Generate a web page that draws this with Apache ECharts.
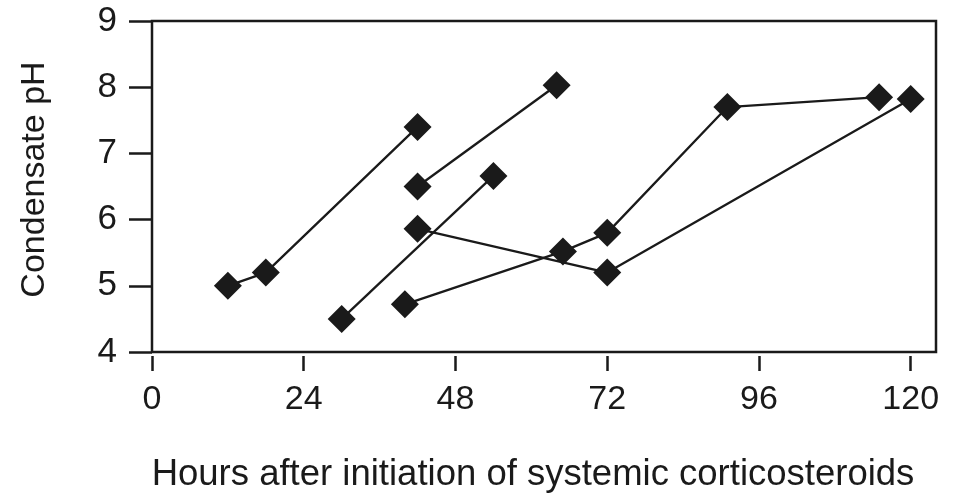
<!DOCTYPE html>
<html>
<head>
<meta charset="utf-8">
<script src="https://cdn.jsdelivr.net/npm/echarts@6/dist/echarts.min.js"></script>
<style>
html,body{margin:0;padding:0;background:#fff;}
#main{width:954px;height:495px;}
</style>
</head>
<body>
<div id="main"></div>
<script>
// Hours after initiation of systemic corticosteroids (x) and condensate pH (y), one array pair per patient
const patientA_x = [12, 18, 42];
const patientA_y = [5.0, 5.2, 7.4];
const patientB_x = [42, 64];
const patientB_y = [6.5, 8.03];
const patientC_x = [30, 54];
const patientC_y = [4.5, 6.66];
const patientD_x = [42, 72, 120];
const patientD_y = [5.86, 5.2, 7.82];
const patientE_x = [40, 65, 72, 91, 115];
const patientE_y = [4.72, 5.52, 5.8, 7.7, 7.85];

const xTickValues = [0, 24, 48, 72, 96, 120];
const yTickValues = [4, 5, 6, 7, 8, 9];

const xTitle = 'Hours after initiation of systemic corticosteroids';
const yTitle = 'Condensate pH';

const font = "'Liberation Sans', Arial, Helvetica, sans-serif";

function pairs(xs, ys) { return xs.map((x, i) => [x, ys[i]]); }

const patients = [
  [patientA_x, patientA_y],
  [patientB_x, patientB_y],
  [patientC_x, patientC_y],
  [patientD_x, patientD_y],
  [patientE_x, patientE_y]
];

const chart = echarts.init(document.getElementById('main'), null, {renderer: 'canvas'});
chart.setOption({
  backgroundColor: '#ffffff',
  animation: false,
  grid: {
    left: 152, top: 21, right: 18, bottom: 143,
    containLabel: false,
    outerBoundsMode: 'none',
    show: true, borderColor: '#1a1a1a', borderWidth: 2.5, backgroundColor: 'transparent'
  },
  xAxis: {
    type: 'value',
    min: 0, max: 124,
    offset: 4,
    axisLine: {show: false},
    axisTick: {show: true, length: 15, lineStyle: {color: '#1a1a1a', width: 2.5}, customValues: xTickValues},
    axisLabel: {color: '#1a1a1a', fontSize: 34, fontFamily: font, margin: 27, customValues: xTickValues},
    splitLine: {show: false},
    name: xTitle,
    nameLocation: 'middle',
    nameGap: 100,
    nameTextStyle: {color: '#1a1a1a', fontSize: 36.5, fontFamily: font, padding: [0, 22, 0, 0]}
  },
  yAxis: {
    type: 'value',
    min: 4, max: 9, interval: 1,
    axisLine: {show: false},
    axisTick: {show: true, length: 23, lineStyle: {color: '#1a1a1a', width: 2.5}, customValues: yTickValues},
    axisLabel: {color: '#1a1a1a', fontSize: 35, fontFamily: font, margin: 35, customValues: yTickValues},
    splitLine: {show: false},
    name: yTitle,
    nameLocation: 'middle',
    nameGap: 100,
    nameTextStyle: {color: '#1a1a1a', fontSize: 34, fontFamily: font, padding: [0, 0, 0, 14]}
  },
  series: patients.map(p => ({
    type: 'line',
    data: pairs(p[0], p[1]),
    symbol: 'diamond',
    symbolSize: 28,
    showSymbol: true,
    lineStyle: {color: '#1a1a1a', width: 2.3},
    itemStyle: {color: '#1a1a1a'},
    z: 3
  }))
});
</script>
</body>
</html>
